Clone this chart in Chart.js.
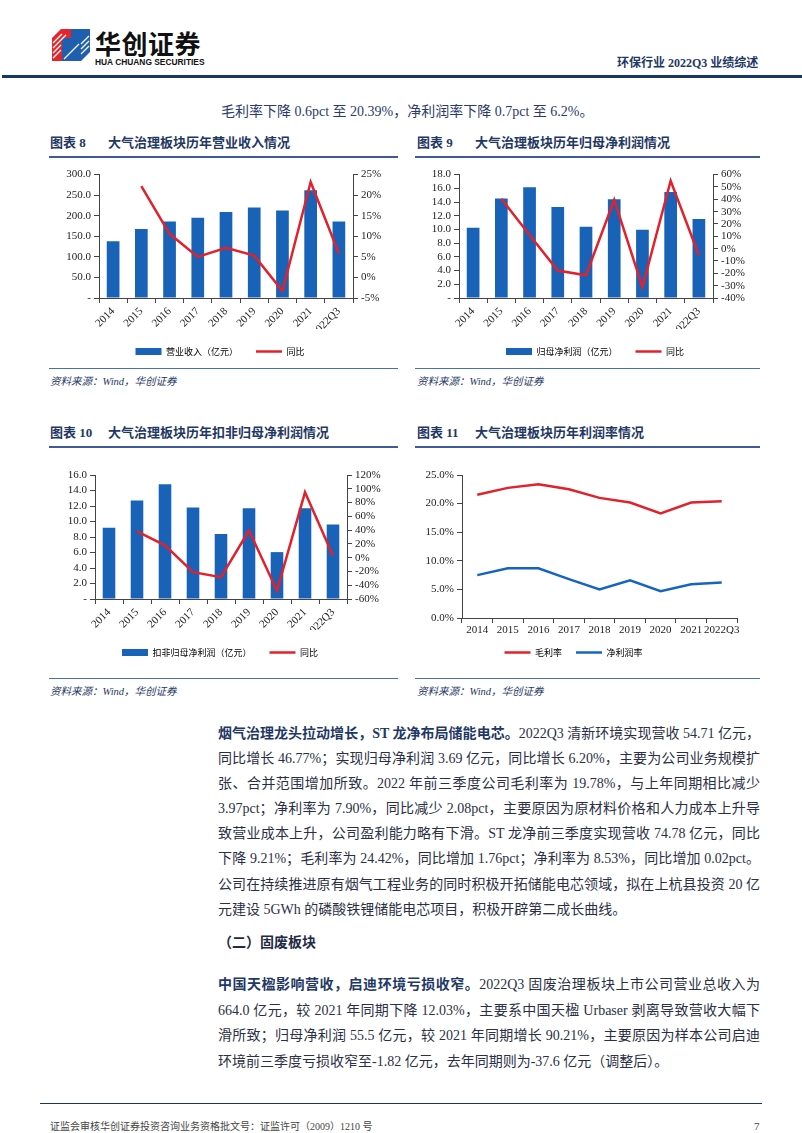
<!DOCTYPE html>
<html>
<head>
<meta charset="utf-8">
<script src="https://cdn.jsdelivr.net/npm/chart.js@4.4.1/dist/chart.umd.min.js"></script>
<style>
  body{margin:0;width:802px;height:1133px;position:relative;background:#fff;overflow:hidden;
       font-family:"Liberation Serif","Noto Sans CJK SC",serif;color:#222;}
  .abs{position:absolute;white-space:nowrap}
  .hline{position:absolute;height:0}
  .ctitle{position:absolute;font-family:"Liberation Serif","Noto Sans CJK SC",serif;font-weight:bold;font-size:13px;color:#1f3864;line-height:16px}
  .ctitle span{display:inline-block}
  .src{position:absolute;font-style:italic;font-size:10.5px;color:#1f3864;line-height:14px}
  .para{position:absolute;left:218px;width:542px;font-size:14px;color:#2b2f45}
  .para div{height:25.1px;line-height:25.1px;text-align:justify;text-align-last:justify;white-space:nowrap}
  .para div.last{text-align-last:left}
  .para b{color:#1f3864}
  canvas{position:absolute}
</style>
</head>
<body>
<!-- header -->
<svg class="abs" style="left:52px;top:29px" width="38" height="32" viewBox="0 0 38 32">
  <polygon points="0,9 9,0 19,0 19,23 10,32 0,32" fill="#e3262b"/>
  <polygon points="19,0 38,0 38,23 29,32 19,32 19,23" fill="#1f5fb0"/>
  <polygon points="10,9 28,9 28,32 10,32" fill="#1f5fb0"/>
  <g stroke="#fff" stroke-width="1.2">
    <line x1="1" y1="14" x2="10" y2="5"/><line x1="1" y1="19" x2="14" y2="6"/><line x1="1" y1="24" x2="9" y2="16"/>
    <line x1="1" y1="29" x2="9" y2="21"/><line x1="29" y1="15" x2="37" y2="7"/><line x1="29" y1="20" x2="37" y2="12"/>
    <line x1="29" y1="25" x2="37" y2="17"/><line x1="12" y1="30" x2="27" y2="15"/>
  </g>
</svg>
<div class="abs" style="left:95px;top:27px;font-family:'Noto Sans CJK SC';font-weight:bold;font-size:26px;line-height:32px;color:#111;letter-spacing:0.5px">华创证券</div>
<div class="abs" style="left:95px;top:57px;font-family:'Liberation Sans';font-weight:bold;font-size:8.4px;line-height:10px;color:#111">HUA CHUANG SECURITIES</div>
<div class="abs" style="left:617px;top:55px;font-weight:bold;font-size:12px;line-height:16px;color:#1f3864">环保行业 2022Q3 业绩综述</div>
<div class="hline" style="left:2px;top:75px;width:800px;border-top:3px solid #17375e"></div>

<div class="abs" style="left:221px;top:103px;font-size:14px;line-height:18px;color:#2b3a6b">毛利率下降 0.6pct 至 20.39%，净利润率下降 0.7pct 至 6.2%。</div>

<!-- chart titles -->
<div class="ctitle" style="left:50px;top:135px"><span style="width:58px">图表 8</span><span>大气治理板块历年营业收入情况</span></div>
<div class="ctitle" style="left:417px;top:135px"><span style="width:58px">图表 9</span><span>大气治理板块历年归母净利润情况</span></div>
<div class="hline" style="left:49px;top:156px;width:349px;border-top:2.5px solid #3e5b98"></div>
<div class="hline" style="left:415px;top:156px;width:345px;border-top:2.5px solid #3e5b98"></div>

<canvas id="c8" width="360" height="201" style="left:40px;top:165px"></canvas>
<canvas id="c9" width="370" height="201" style="left:410px;top:165px"></canvas>

<div class="hline" style="left:49px;top:368px;width:349px;border-top:1.5px solid #4a6fb0"></div>
<div class="hline" style="left:415px;top:368px;width:345px;border-top:1.5px solid #4a6fb0"></div>
<div class="src" style="left:50px;top:375px">资料来源：Wind，华创证券</div>
<div class="src" style="left:417px;top:375px">资料来源：Wind，华创证券</div>

<div class="ctitle" style="left:50px;top:425px"><span style="width:58px">图表 10</span><span>大气治理板块历年扣非归母净利润情况</span></div>
<div class="ctitle" style="left:417px;top:425px"><span style="width:58px">图表 11</span><span>大气治理板块历年利润率情况</span></div>
<div class="hline" style="left:49px;top:446px;width:349px;border-top:2.5px solid #3e5b98"></div>
<div class="hline" style="left:415px;top:446px;width:345px;border-top:2.5px solid #3e5b98"></div>

<canvas id="c10" width="360" height="202" style="left:40px;top:465px"></canvas>
<canvas id="c11" width="370" height="202" style="left:410px;top:465px"></canvas>

<div class="hline" style="left:49px;top:678px;width:349px;border-top:1.5px solid #4a6fb0"></div>
<div class="hline" style="left:415px;top:678px;width:345px;border-top:1.5px solid #4a6fb0"></div>
<div class="src" style="left:50px;top:685px">资料来源：Wind，华创证券</div>
<div class="src" style="left:417px;top:685px">资料来源：Wind，华创证券</div>

<!-- body text -->
<div class="para" style="top:721px">
  <div><b>烟气治理龙头拉动增长，ST 龙净布局储能电芯。</b>2022Q3 清新环境实现营收 54.71 亿元，</div>
  <div>同比增长 46.77%；实现归母净利润 3.69 亿元，同比增长 6.20%，主要为公司业务规模扩</div>
  <div>张、合并范围增加所致。2022 年前三季度公司毛利率为 19.78%，与上年同期相比减少</div>
  <div>3.97pct；净利率为 7.90%，同比减少 2.08pct，主要原因为原材料价格和人力成本上升导</div>
  <div>致营业成本上升，公司盈利能力略有下滑。ST 龙净前三季度实现营收 74.78 亿元，同比</div>
  <div>下降 9.21%；毛利率为 24.42%，同比增加 1.76pct；净利率为 8.53%，同比增加 0.02pct。</div>
  <div>公司在持续推进原有烟气工程业务的同时积极开拓储能电芯领域，拟在上杭县投资 20 亿</div>
  <div class="last">元建设 5GWh 的磷酸铁锂储能电芯项目，积极开辟第二成长曲线。</div>
</div>
<div class="abs" style="left:218px;top:934px;font-size:14px;line-height:18px;font-weight:bold;color:#1f2a44">（二）固废板块</div>
<div class="para" style="top:972px">
  <div style="height:25.6px;line-height:25.6px"><b>中国天楹影响营收，启迪环境亏损收窄。</b>2022Q3 固废治理板块上市公司营业总收入为</div>
  <div style="height:25.6px;line-height:25.6px">664.0 亿元，较 2021 年同期下降 12.03%，主要系中国天楹 Urbaser 剥离导致营收大幅下</div>
  <div style="height:25.6px;line-height:25.6px">滑所致；归母净利润 55.5 亿元，较 2021 年同期增长 90.21%，主要原因为样本公司启迪</div>
  <div class="last" style="height:25.6px;line-height:25.6px">环境前三季度亏损收窄至-1.82 亿元，去年同期则为-37.6 亿元（调整后）。</div>
</div>

<!-- footer -->
<div class="hline" style="left:40px;top:1103px;width:722px;border-top:1.5px solid #17375e"></div>
<div class="abs" style="left:50px;top:1120px;font-size:10px;line-height:14px;color:#444">证监会审核华创证券投资咨询业务资格批文号：证监许可（2009）1210 号</div>
<div class="abs" style="left:754px;top:1119px;font-size:11px;line-height:14px;color:#444">7</div>

<script>
// ---------- Data ----------
const years = ['2014','2015','2016','2017','2018','2019','2020','2021','2022Q3'];

const revenue    = [138, 168, 186, 195, 209, 220, 213, 262, 186];          // 营业收入（亿元）
const revenueYoy = [null, 22.2, 10.6, 5.0, 7.2, 5.3, -3.3, 23.2, 5.8];     // 同比 %

const netProfit    = [10.26, 14.5, 16.15, 13.28, 10.4, 14.4, 9.97, 15.47, 11.53]; // 归母净利润（亿元）
const netProfitYoy = [null, 40.5, 11.0, -17.7, -21.6, 39.5, -31.2, 55.0, -5.4];

const deductProfit    = [9.2, 12.7, 14.8, 11.8, 8.4, 11.7, 6.05, 11.7, 9.6]; // 扣非归母净利润（亿元）
const deductProfitYoy = [null, 38.0, 17.8, -21.0, -28.3, 39.4, -48.0, 94.9, 2.8];

const grossMargin = [21.55, 22.75, 23.4, 22.5, 21.0, 20.2, 18.3, 20.2, 20.39]; // 毛利率 %
const netMargin   = [7.5, 8.7, 8.7, 6.8, 5.0, 6.6, 4.7, 5.9, 6.2];           // 净利润率 %

// ---------- Styles ----------
const BLUE = '#1862b8', RED = '#e3212b', LINEBLUE = '#1565c0', AXIS = '#444';
Chart.defaults.font.family = '"Liberation Serif","Noto Sans CJK SC",serif';
Chart.defaults.color = '#222';
Chart.defaults.animation = false;

function legendOpts(pad){
  return {
    position:'bottom',
    labels:{
      font:{ size:9, family:'"Noto Sans CJK SC"' }, color:'#222',
      padding:pad, usePointStyle:true, pointStyleWidth:26, boxHeight:7,
      generateLabels(chart){
        return chart.data.datasets.map((ds,i) => {
          const isLine = (ds.type || chart.config.type) === 'line';
          return {
            text: ds.label, datasetIndex:i, hidden:false,
            fillStyle: isLine ? 'rgba(0,0,0,0)' : ds.backgroundColor,
            strokeStyle: ds.borderColor,
            lineWidth: isLine ? 2.5 : 0,
            pointStyle: isLine ? 'line' : 'rect'
          };
        });
      }
    }
  };
}

function axisGrid(){ return { drawOnChartArea:false, color:AXIS, tickLength:5 }; }

function barLineChart(id, barLabel, bars, yoy, L, R, box){
  return new Chart(document.getElementById(id), {
    data:{
      labels: years,
      datasets:[
        { type:'bar', label:barLabel, data:bars, backgroundColor:BLUE, borderColor:BLUE,
          barPercentage:0.45, categoryPercentage:1, yAxisID:'y', order:2 },
        { type:'line', label:'同比', data:yoy, borderColor:RED, backgroundColor:RED,
          borderWidth:2.5, pointRadius:0, tension:0, yAxisID:'y1', order:1 }
      ]
    },
    options:{
      responsive:false,
      layout:{ padding:{ top:box.top, left:0, right:0, bottom:0 } },
      plugins:{ legend:legendOpts(18), tooltip:{ enabled:false } },
      scales:{
        x:{ offset:true, grid:{ ...axisGrid(), offset:true }, border:{ color:AXIS },
            ticks:{ minRotation:45, maxRotation:45, autoSkip:false, font:{ size:11 }, padding:2 },
            afterFit(s){ s.height = box.xh; } },
        y:{ position:'left', min:0, max:L.max,
            ticks:{ stepSize:L.step, autoSkip:false, font:{ size:11 }, padding:3,
                    callback:v => v === 0 ? '-' : v.toFixed(1) },
            grid:axisGrid(), border:{ color:AXIS },
            afterFit(s){ s.width = box.lw; } },
        y1:{ position:'right', min:R.min, max:R.max,
             ticks:{ stepSize:R.step, autoSkip:false, font:{ size:11 }, padding:3, callback:v => v + '%' },
             grid:axisGrid(), border:{ color:AXIS },
             afterFit(s){ s.width = box.rw; } }
      }
    }
  });
}

barLineChart('c8', '营业收入（亿元）', revenue, revenueYoy,
  { max:300, step:50 }, { min:-5, max:25, step:5 }, { top:9, lw:59, rw:47, xh:31 });
barLineChart('c9', '归母净利润（亿元）', netProfit, netProfitYoy,
  { max:18, step:2 }, { min:-40, max:60, step:10 }, { top:9, lw:49, rw:67, xh:31 });
barLineChart('c10', '扣非归母净利润（亿元）', deductProfit, deductProfitYoy,
  { max:16, step:2 }, { min:-60, max:120, step:20 }, { top:10, lw:55, rw:53, xh:31 });

new Chart(document.getElementById('c11'), {
  type:'line',
  data:{
    labels: years,
    datasets:[
      { label:'毛利率', data:grossMargin, borderColor:RED, backgroundColor:RED,
        borderWidth:2.5, pointRadius:0, tension:0 },
      { label:'净利润率', data:netMargin, borderColor:LINEBLUE, backgroundColor:LINEBLUE,
        borderWidth:2.5, pointRadius:0, tension:0 }
    ]
  },
  options:{
    responsive:false,
    layout:{ padding:{ top:10, left:0, right:43, bottom:0 } },
    plugins:{ legend:legendOpts(14), tooltip:{ enabled:false } },
    scales:{
      x:{ offset:true, grid:{ ...axisGrid(), offset:true }, border:{ color:AXIS },
          ticks:{ maxRotation:0, autoSkip:false, font:{ size:11 }, padding:1 },
          afterFit(s){ s.height = 16; } },
      y:{ min:0, max:25,
          ticks:{ stepSize:5, autoSkip:false, font:{ size:11 }, padding:3, callback:v => v.toFixed(1) + '%' },
          grid:axisGrid(), border:{ color:AXIS },
          afterFit(s){ s.width = 52; } }
    }
  }
});
</script>
</body>
</html>
